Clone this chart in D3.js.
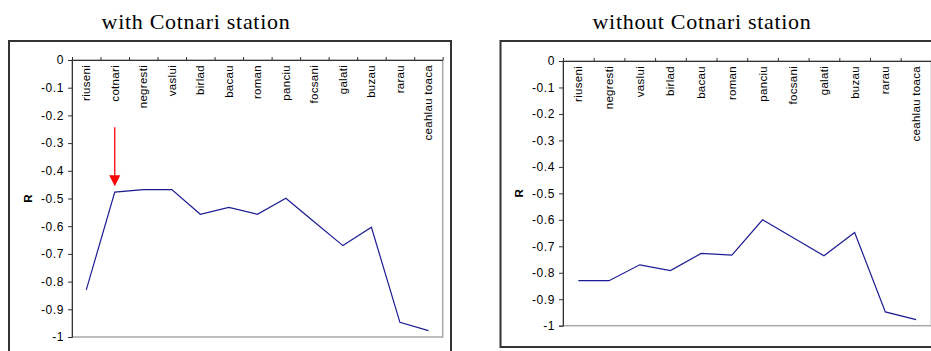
<!DOCTYPE html>
<html>
<head>
<meta charset="utf-8">
<script src="https://cdn.jsdelivr.net/npm/d3@7"></script>
<style>
  body { margin: 0; background: #fff; }
  svg { display: block; }
</style>
</head>
<body>
<script>
// station lists and R values
const stationsWith = ["riuseni", "cotnari", "negresti", "vaslui", "birlad", "bacau", "roman",
                      "panciu", "focsani", "galati", "buzau", "rarau", "ceahlau toaca"];
const rWith = [-0.83, -0.477, -0.468, -0.468, -0.557, -0.532, -0.557,
               -0.499, -0.585, -0.670, -0.604, -0.947, -0.977];

const stationsWithout = ["riuseni", "negresti", "vaslui", "birlad", "bacau", "roman",
                         "panciu", "focsani", "galati", "buzau", "rarau", "ceahlau toaca"];
const rWithout = [-0.83, -0.83, -0.77, -0.792, -0.727, -0.733,
                  -0.60, -0.668, -0.736, -0.648, -0.948, -0.977];

const yTicks = [0, -0.1, -0.2, -0.3, -0.4, -0.5, -0.6, -0.7, -0.8, -0.9, -1];

const W = 931, H = 351;

const svg = d3.select("body").append("svg")
  .attr("width", W)
  .attr("height", H);

function drawPanel(opt) {
  const g = svg.append("g");

  // title
  g.append("text")
    .attr("x", opt.titleX)
    .attr("y", 29)
    .attr("text-anchor", "middle")
    .style("font-family", "'Liberation Serif', 'Times New Roman', serif")
    .style("font-size", "22px")
    .style("letter-spacing", "0.7px")
    .text(opt.title);

  // outer frame
  g.append("rect")
    .attr("x", opt.frame[0])
    .attr("y", opt.frame[1])
    .attr("width", opt.frame[2])
    .attr("height", opt.frame[3])
    .attr("fill", "none")
    .attr("stroke", "#333")
    .attr("stroke-width", 2);

  const x = d3.scaleBand().domain(opt.cats).range([opt.left, opt.right]);
  const xi = d3.scaleLinear().domain([0, opt.cats.length]).range([opt.left, opt.right]);
  const y = d3.scaleLinear().domain([0, -1]).range([opt.top, opt.bottom]);

  // plot area border
  g.append("rect")
    .attr("x", opt.left)
    .attr("y", opt.top)
    .attr("width", opt.right - opt.left)
    .attr("height", opt.bottom - opt.top)
    .attr("fill", "none")
    .attr("stroke", "#a8a8a8")
    .attr("stroke-width", 1.5);

  // y axis (plain hyphen minus like the original)
  const ya = g.append("g")
    .attr("transform", `translate(${opt.left},0)`)
    .call(d3.axisLeft(y).tickValues(yTicks).tickSize(4).tickPadding(4)
      .tickFormat(d => String(+d.toFixed(1))));
  ya.select(".domain").attr("stroke", "#333");
  ya.selectAll(".tick line").attr("stroke", "#333");
  ya.selectAll("text")
    .style("font-family", "'Liberation Sans', Arial, sans-serif")
    .style("font-size", "12px")
    .style("letter-spacing", "0.6px")
    .attr("fill", "#000");

  // category axis along R = 0, ticks between stations
  const xa = g.append("g")
    .attr("transform", `translate(0,${y(0)})`)
    .call(d3.axisTop(xi).tickValues(d3.range(opt.cats.length + 1))
      .tickFormat("").tickSizeInner(3).tickSizeOuter(0));
  xa.select(".domain").attr("stroke", "#333");
  xa.selectAll(".tick line").attr("stroke", "#333");

  // station names, rotated, hanging under the axis
  g.selectAll(".cat")
    .data(opt.cats)
    .enter()
    .append("text")
    .attr("class", "cat")
    .attr("transform", d => `translate(${x(d) + x.bandwidth() / 2},${y(0) + 5}) rotate(-90)`)
    .attr("dy", "0.35em")
    .attr("text-anchor", "end")
    .style("font-family", "'Liberation Sans', Arial, sans-serif")
    .style("font-size", "11.5px")
    .style("letter-spacing", "0.3px")
    .attr("fill", "#000")
    .text(d => d);

  // R label
  g.append("text")
    .attr("transform", `translate(${opt.left - 40},${(opt.top + opt.bottom) / 2}) rotate(-90)`)
    .attr("text-anchor", "middle")
    .style("font-family", "'Liberation Sans', Arial, sans-serif")
    .style("font-size", "11.5px")
    .style("font-weight", "bold")
    .text("R");

  // the series
  const line = d3.line()
    .x((d, i) => x(opt.cats[i]) + x.bandwidth() / 2)
    .y(d => y(d));

  g.append("path")
    .datum(opt.vals)
    .attr("d", line)
    .attr("fill", "none")
    .attr("stroke", "#1c1c94")
    .attr("stroke-width", 1.2);

  return { g, x, y };
}

const left = drawPanel({
  title: "with Cotnari station", titleX: 196,
  frame: [9, 41, 442, 320],
  left: 72, right: 442.7, top: 60, bottom: 337,
  cats: stationsWith, vals: rWith
});

drawPanel({
  title: "without Cotnari station", titleX: 702,
  frame: [500.5, 41, 445, 306],
  left: 563, right: 931.4, top: 61, bottom: 325.7,
  cats: stationsWithout, vals: rWithout
});

// red arrow pointing at cotnari
const ax = left.x("cotnari") + left.x.bandwidth() / 2;
const tipY = left.y(rWith[1]) - 6;
left.g.append("line")
  .attr("x1", ax).attr("x2", ax)
  .attr("y1", tipY - 59).attr("y2", tipY - 9)
  .attr("stroke", "#ff0000")
  .attr("stroke-width", 1.3);
left.g.append("path")
  .attr("d", `M${ax - 5.5},${tipY - 11} L${ax + 5.5},${tipY - 11} L${ax},${tipY} Z`)
  .attr("fill", "#ff0000");
</script>
</body>
</html>
